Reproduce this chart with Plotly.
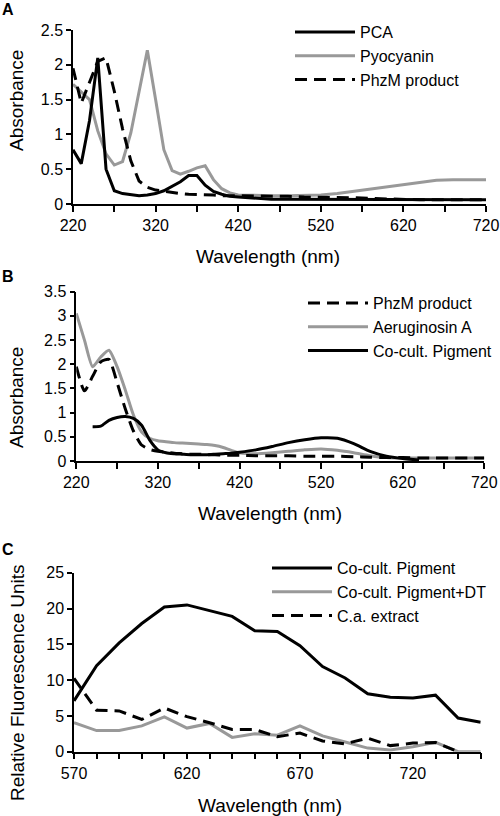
import plotly.graph_objects as go

# ---------------- Data ----------------
wl_abs = [220, 230, 240, 250, 260, 270, 280, 290, 300, 310, 320, 330, 340, 350, 360,
          370, 380, 390, 400, 410, 420, 440, 460, 480, 500, 520, 540, 560, 580, 600,
          620, 640, 660, 680, 700, 720]

pca = [0.78, 0.58, 1.2, 2.1, 0.5, 0.19, 0.15, 0.13, 0.12, 0.13, 0.15, 0.19, 0.25, 0.32, 0.41,
       0.41, 0.27, 0.18, 0.14, 0.11, 0.10, 0.08, 0.07, 0.07, 0.07, 0.07, 0.07, 0.07, 0.06, 0.06,
       0.06, 0.06, 0.06, 0.06, 0.06, 0.06]

pyocyanin = [1.72, 1.61, 1.5, 1.05, 0.72, 0.56, 0.61, 1.02, 1.6, 2.21, 1.5, 0.78, 0.48, 0.43, 0.47,
             0.52, 0.55, 0.35, 0.22, 0.16, 0.13, 0.12, 0.12, 0.12, 0.12, 0.13, 0.15, 0.18, 0.21, 0.25,
             0.28, 0.31, 0.34, 0.35, 0.35, 0.35]

phzm = [1.95, 1.45, 1.75, 2.05, 2.1, 1.62, 1.08, 0.62, 0.33, 0.24, 0.2, 0.18, 0.16, 0.15, 0.14,
        0.14, 0.13, 0.13, 0.12, 0.12, 0.12, 0.11, 0.11, 0.11, 0.1, 0.1, 0.1, 0.09, 0.08, 0.07,
        0.07, 0.06, 0.06, 0.06, 0.06, 0.06]

aeruginosin = [3.05, 2.5, 1.95, 2.15, 2.29, 1.95, 1.47, 0.95, 0.6, 0.47, 0.42, 0.4, 0.38, 0.37, 0.36,
               0.35, 0.34, 0.32, 0.28, 0.22, 0.17, 0.15, 0.17, 0.2, 0.23, 0.25, 0.22, 0.17, 0.11, 0.07,
               0.06, 0.06, 0.06, 0.06, 0.06, 0.06]

wl_cocult = [240, 250, 260, 270, 280, 290, 300, 310, 320, 330, 340, 350, 360, 370, 380,
             390, 400, 410, 420, 440, 460, 480, 500, 520, 540, 560, 580, 600, 620, 640]
cocult_abs = [0.71, 0.72, 0.84, 0.9, 0.92, 0.88, 0.74, 0.43, 0.23, 0.17, 0.15, 0.14, 0.13, 0.13, 0.13,
              0.14, 0.15, 0.16, 0.18, 0.23, 0.3, 0.38, 0.44, 0.48, 0.47, 0.36, 0.2, 0.1, 0.05, 0.02]

wl_fl = [570, 580, 590, 600, 610, 620, 630, 640, 650, 660, 670, 680, 690, 700, 710, 720, 730, 740, 750]
cocult_fl = [7.1, 12.0, 15.2, 17.9, 20.2, 20.5, 19.7, 18.9, 16.9, 16.8, 14.8, 11.9, 10.3, 8.1, 7.6,
             7.5, 7.9, 4.7, 4.1]
cocult_dt_fl = [4.05, 2.95, 2.95, 3.6, 4.85, 3.3, 3.95, 2.0, 2.5, 2.3, 3.6, 2.2, 1.35, 0.5, 0.25,
                0.7, 1.3, 0.0, 0.0]
wl_ca = [570, 580, 590, 600, 610, 620, 630, 640, 650, 660, 670, 680, 690, 700, 710, 720, 730, 740]
ca_extract = [10.25, 5.8, 5.7, 4.5, 6.1, 4.9, 4.05, 3.1, 3.1, 2.1, 2.6, 1.5, 1.1, 1.9, 0.85,
              1.2, 1.3, 0.0]

# ---------------- Style ----------------
BLACK = "#000000"
GRAY = "#999999"
LW = 3
DASH = "12px,7px"
FONT = "Liberation Sans, Arial, sans-serif"

W, H = 500, 816


def px_x(p):
    return p / W


def px_y(p):
    return 1 - p / H


fig = go.Figure()

# Panel A
fig.add_trace(go.Scatter(x=wl_abs, y=pyocyanin, name="Pyocyanin", mode="lines",
                         line=dict(color=GRAY, width=LW), xaxis="x", yaxis="y", legend="legend",
                         legendrank=2))
fig.add_trace(go.Scatter(x=wl_abs, y=phzm, name="PhzM product", mode="lines",
                         line=dict(color=BLACK, width=LW, dash=DASH), xaxis="x", yaxis="y",
                         legend="legend", legendrank=3))
fig.add_trace(go.Scatter(x=wl_abs, y=pca, name="PCA", mode="lines",
                         line=dict(color=BLACK, width=LW), xaxis="x", yaxis="y", legend="legend",
                         legendrank=1))

# Panel B
fig.add_trace(go.Scatter(x=wl_abs, y=aeruginosin, name="Aeruginosin A", mode="lines",
                         line=dict(color=GRAY, width=LW, shape="spline", smoothing=0.6),
                         xaxis="x2", yaxis="y2", legend="legend2", legendrank=2))
fig.add_trace(go.Scatter(x=wl_abs, y=phzm, name="PhzM product", mode="lines",
                         line=dict(color=BLACK, width=LW, dash=DASH, shape="spline", smoothing=0.6),
                         xaxis="x2", yaxis="y2", legend="legend2", legendrank=1))
fig.add_trace(go.Scatter(x=wl_cocult, y=cocult_abs, name="Co-cult. Pigment", mode="lines",
                         line=dict(color=BLACK, width=LW, shape="spline", smoothing=0.6),
                         xaxis="x2", yaxis="y2", legend="legend2", legendrank=3))

# Panel C
fig.add_trace(go.Scatter(x=wl_fl, y=cocult_dt_fl, name="Co-cult. Pigment+DT", mode="lines",
                         line=dict(color=GRAY, width=LW), xaxis="x3", yaxis="y3",
                         legend="legend3", legendrank=2))
fig.add_trace(go.Scatter(x=wl_ca, y=ca_extract, name="C.a. extract", mode="lines",
                         line=dict(color=BLACK, width=LW, dash=DASH), xaxis="x3", yaxis="y3",
                         legend="legend3", legendrank=3))
fig.add_trace(go.Scatter(x=wl_fl, y=cocult_fl, name="Co-cult. Pigment", mode="lines",
                         line=dict(color=BLACK, width=LW), xaxis="x3", yaxis="y3",
                         legend="legend3", legendrank=1))

tickfont = dict(family=FONT, size=16, color=BLACK)


def xax(domain, rng, dtick, tick0, minor_dtick, anchor):
    return dict(domain=domain, range=rng, dtick=dtick, tick0=tick0, anchor=anchor,
                showgrid=False, zeroline=False, showline=True, linecolor=BLACK, linewidth=1.5,
                ticks="outside", ticklen=6, tickwidth=1.5, tickcolor=BLACK,
                minor=dict(dtick=minor_dtick, tick0=tick0, ticks="outside", ticklen=6,
                           tickwidth=1.5, tickcolor=BLACK, showgrid=False),
                tickfont=tickfont, automargin=False, fixedrange=True,
                ticklabeloverflow="allow")


def yax(domain, rng, dtick, anchor):
    return dict(domain=domain, range=rng, dtick=dtick, tick0=0, anchor=anchor,
                showgrid=False, zeroline=False, showline=True, linecolor=BLACK, linewidth=1.5,
                ticks="outside", ticklen=5, tickwidth=1.5, tickcolor=BLACK,
                tickfont=tickfont, automargin=False, fixedrange=True,
                ticklabeloverflow="allow")


legfont = dict(family=FONT, size=16, color=BLACK)

fig.update_layout(
    width=W, height=H,
    margin=dict(l=0, r=0, t=0, b=0),
    paper_bgcolor="white", plot_bgcolor="white",
    font=dict(family=FONT, color=BLACK),
    xaxis=xax([px_x(73), px_x(486)], [220, 720], 100, 220, 50, "y"),
    yaxis=yax([px_y(204), px_y(30)], [0, 2.5], 0.5, "x"),
    xaxis2=xax([px_x(76.3), px_x(484.3)], [220, 720], 100, 220, 50, "y2"),
    yaxis2=yax([px_y(461), px_y(291.7)], [0, 3.5], 0.5, "x2"),
    xaxis3=xax([px_x(74), px_x(480.7)], [570, 750], 50, 570, 10, "y3"),
    yaxis3=yax([px_y(751.7), px_y(572.7)], [0, 25], 5, "x3"),
    legend=dict(x=px_x(290), y=px_y(15), xanchor="left", yanchor="top", font=legfont,
                bgcolor="rgba(0,0,0,0)", itemwidth=60, tracegroupgap=0),
    legend2=dict(x=px_x(303), y=px_y(286), xanchor="left", yanchor="top", font=legfont,
                 bgcolor="rgba(0,0,0,0)", itemwidth=60, tracegroupgap=0),
    legend3=dict(x=px_x(267), y=px_y(551), xanchor="left", yanchor="top", font=legfont,
                 bgcolor="rgba(0,0,0,0)", itemwidth=60, tracegroupgap=0),
    showlegend=True,
)

title_font = dict(family=FONT, size=19, color=BLACK)
annots = [
    dict(text="Wavelength (nm)", x=px_x(268), y=px_y(256), font=title_font),
    dict(text="Wavelength (nm)", x=px_x(270), y=px_y(513), font=title_font),
    dict(text="Wavelength (nm)", x=px_x(270), y=px_y(805), font=title_font),
    dict(text="Absorbance", x=px_x(16), y=px_y(101), font=title_font, textangle=-90),
    dict(text="Absorbance", x=px_x(16), y=px_y(398), font=title_font, textangle=-90),
    dict(text="Relative Fluorescence Units", x=px_x(17), y=px_y(683), font=title_font,
         textangle=-90),
    dict(text="<b>A</b>", x=px_x(8), y=px_y(10), font=dict(family=FONT, size=16, color=BLACK)),
    dict(text="<b>B</b>", x=px_x(8), y=px_y(276), font=dict(family=FONT, size=16, color=BLACK)),
    dict(text="<b>C</b>", x=px_x(8), y=px_y(549), font=dict(family=FONT, size=16, color=BLACK)),
]
for a in annots:
    fig.add_annotation(xref="paper", yref="paper", showarrow=False, xanchor="center",
                       yanchor="middle", **a)

# remove the default 8px body margin of the page so the figure sits at (0, 0)
fig.write_html("out.html", config={"displayModeBar": False},
               post_script="document.body.style.margin='0';")
